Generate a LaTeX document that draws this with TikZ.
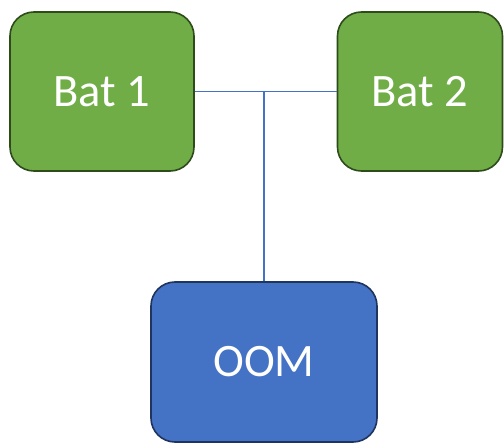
\documentclass[tikz,border=0pt]{standalone}
\usepackage{fontspec}
\setmainfont{Carlito}
\usepackage{xcolor}
\definecolor{batgreen}{HTML}{70AD47}
\definecolor{batedge}{HTML}{2E4B1C}
\definecolor{oomblue}{HTML}{4472C4}
\definecolor{oomedge}{HTML}{1F3560}

\begin{document}
\begin{tikzpicture}[
    x=1pt, y=1pt,
    every node/.style={rectangle, rounded corners=24pt, line width=1.6pt, text=white, font=\fontsize{46.5}{52}\selectfont},
    batbox/.style={fill=batgreen, draw=batedge, minimum height=159pt},
    oombox/.style={fill=oomblue, draw=oomedge, minimum width=226pt, minimum height=160pt}
]
\useasboundingbox (0,0) rectangle (504,-444);

% batteries
\node[batbox, minimum width=184pt] (bat1) at (102,-91.5) {Bat 1};
\node[batbox, minimum width=165pt] (bat2) at (420,-91.5) {Bat 2};

% OOM
\node[oombox] (oom) at (264,-362) {OOM};

% wiring
\coordinate (tap) at (oom.north |- bat1.east);
\draw[oomblue, line width=1.2pt] (bat1.east) -- (bat2.west);
\draw[oomblue, line width=1.2pt] (tap) -- (oom.north);

\end{tikzpicture}
\end{document}
